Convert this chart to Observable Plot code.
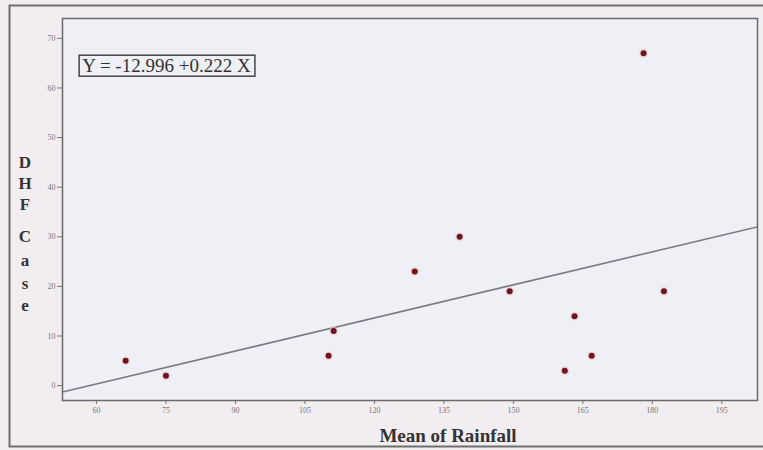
<!DOCTYPE html>
<html>
<head>
<meta charset="utf-8">
<script src="https://cdn.jsdelivr.net/npm/d3@7"></script>
<script src="https://cdn.jsdelivr.net/npm/@observablehq/plot@0.6"></script>
<style>
  html, body { margin: 0; padding: 0; background: #f1edf0; }
  #chart { width: 763px; height: 450px; }
</style>
</head>
<body>
<div id="chart"></div>
<script>
// Data
const rainfall = [66.3, 75, 110.1, 111.2, 128.7, 138.4, 149.2, 161.1, 163.2, 166.9, 178.1, 182.5];
const dhfCases = [5, 2, 6, 11, 23, 30, 19, 3, 14, 6, 67, 19];
const xTicks = [60, 75, 90, 105, 120, 135, 150, 165, 180, 195];
const yTicks = [0, 10, 20, 30, 40, 50, 60, 70];
const intercept = -12.996;
const slope = 0.222;
const equationLabel = "Y = -12.996 +0.222 X";
const xLabel = "Mean of Rainfall";
const yLabelLetters = ["D", "H", "F", "", "C", "a", "s", "e"];

const xDomain = [52.66, 202.7];
const yDomain = [-3, 74];

const points = rainfall.map((r, i) => ({x: r, y: dhfCases[i]}));
const fitLine = xDomain.map(x => ({x, y: intercept + slope * x}));

const plot = Plot.plot({
  width: 763,
  height: 450,
  marginLeft: 62,
  marginRight: 6,
  marginTop: 18,
  marginBottom: 50,
  style: {background: "transparent", fontFamily: "Liberation Serif, serif"},
  x: {domain: xDomain, ticks: xTicks, label: null},
  y: {domain: yDomain, ticks: yTicks, label: null},
  marks: [
    Plot.frame({fill: "#eef0f6", stroke: null}),
    Plot.axisX({ticks: xTicks, tickSize: 4, tickPadding: 3, fontSize: 8, fill: "#777", stroke: "#777", label: null}),
    Plot.axisY({ticks: yTicks, tickSize: 5, tickPadding: 2, fontSize: 8, fill: "#777", stroke: "#777", label: null}),
    Plot.line(fitLine, {x: "x", y: "y", stroke: "#7a7a80", strokeWidth: 1.6, clip: true}),
    Plot.dot(points, {x: "x", y: "y", r: 4.5, fill: "#f0c8c0", fillOpacity: 0.6, stroke: null}),
    Plot.dot(points, {x: "x", y: "y", r: 3, fill: "#6e1424", stroke: null}),
    Plot.text([equationLabel], {x: 56.9, y: 64.4, text: d => d, textAnchor: "start", fontSize: 19, fill: "#333", className: "eq"}),
    Plot.frame({stroke: "#6a6a6a", strokeWidth: 1.5})
  ]
});

document.getElementById("chart").appendChild(plot);
const svg = d3.select(plot);

// outer frame
svg.insert("rect", ":first-child")
  .attr("x", 9.5).attr("y", 5.5).attr("width", 762).attr("height", 441)
  .attr("fill", "#f1edf0").attr("stroke", "#6e6e6e").attr("stroke-width", 2);

// box around equation
const eqNode = plot.querySelector(".eq text");
if (eqNode) {
  const bb = eqNode.getBBox();
  d3.select(eqNode.parentNode).insert("rect", ":first-child")
    .attr("transform", eqNode.getAttribute("transform"))
    .attr("x", bb.x - 3).attr("y", bb.y).attr("width", bb.width + 7).attr("height", bb.height)
    .attr("fill", "none").attr("stroke", "#444").attr("stroke-width", 1.5);
}

// x-axis title
svg.append("text")
  .attr("x", 448).attr("y", 442)
  .attr("text-anchor", "middle")
  .attr("font-family", "Liberation Serif, serif").attr("font-weight", "bold").attr("font-size", 19)
  .attr("fill", "#333")
  .text(xLabel);

// y-axis title, stacked letters
const letterY = [164, 185, 206, 221, 238, 262, 285, 307];
svg.append("g")
  .selectAll("text")
  .data(yLabelLetters)
  .join("text")
  .attr("x", 25).attr("y", (d, i) => letterY[i])
  .attr("text-anchor", "middle").attr("dominant-baseline", "middle")
  .attr("font-family", "Liberation Serif, serif").attr("font-weight", "bold").attr("font-size", 17)
  .attr("fill", "#333")
  .text(d => d);
</script>
</body>
</html>
